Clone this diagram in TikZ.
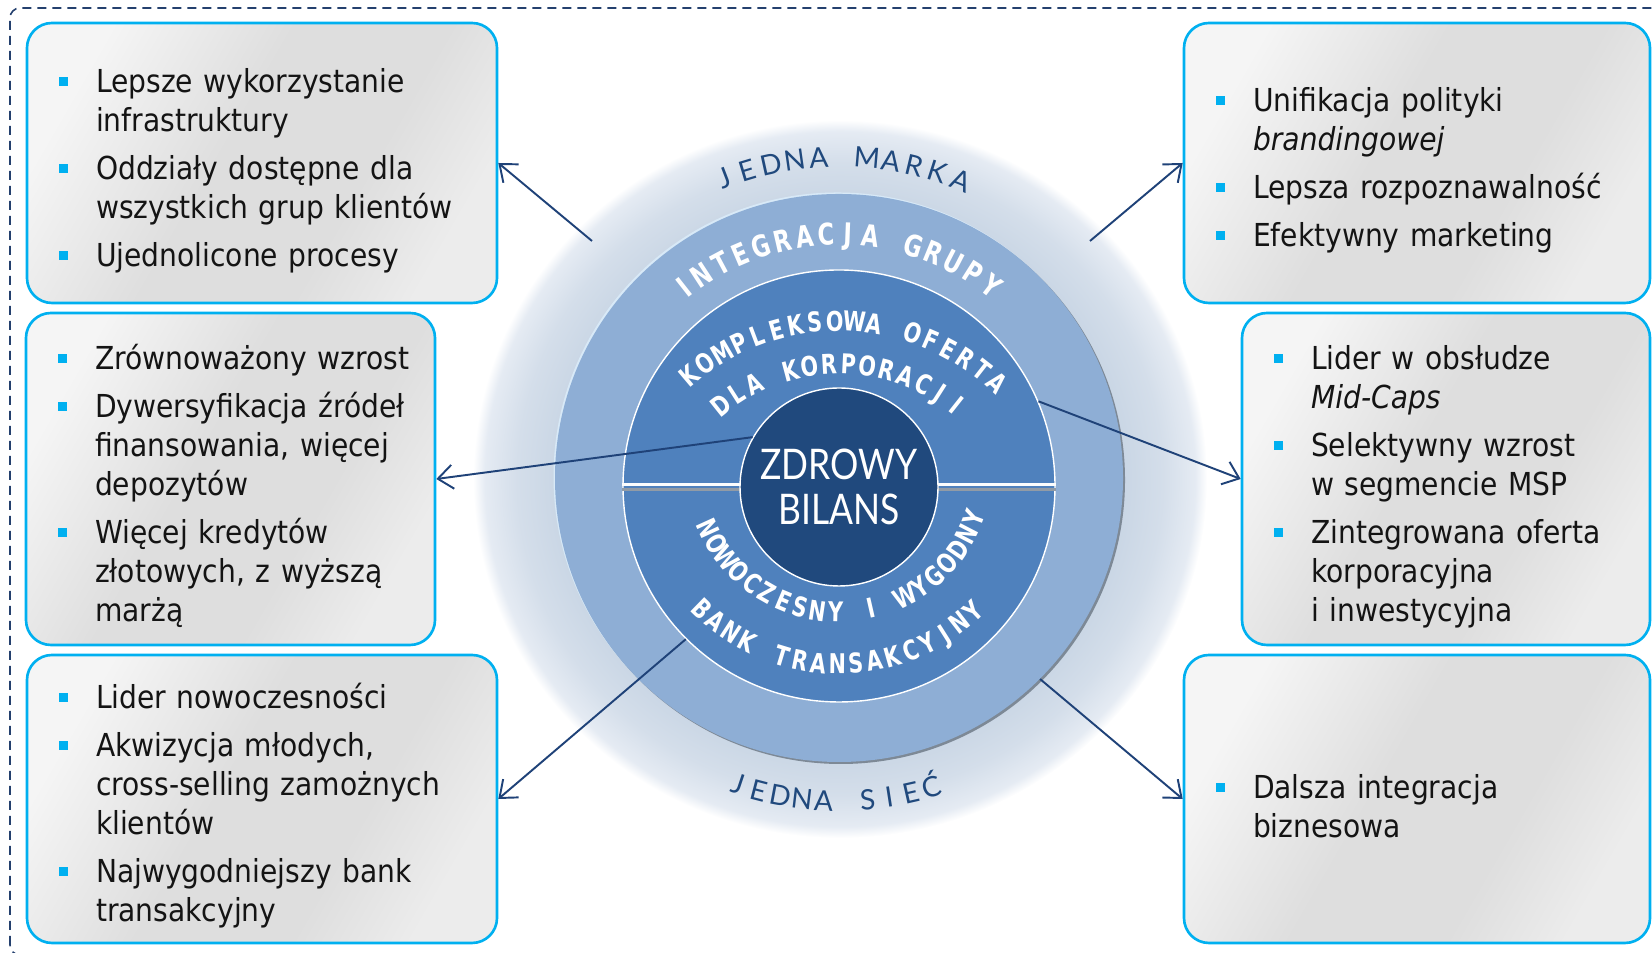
\documentclass[tikz,border=0pt]{standalone}
\usepackage{fontspec}
\setmainfont{DejaVu Sans}[FakeStretch=0.89]
\newfontfamily\circfont{Lato}
\newfontfamily\circbold{DejaVu Sans}[FakeStretch=0.76]
\newfontfamily\corefont{Lato}[FakeStretch=0.84]
\usepackage{enumitem}
\usetikzlibrary{shapes.geometric,arrows.meta}
\definecolor{ringblue}{RGB}{142,174,213}
\definecolor{discblue}{RGB}{79,129,189}
\definecolor{corenavy}{RGB}{32,73,125}
\definecolor{glowin}{RGB}{200,213,228}
\definecolor{glowmid}{RGB}{212,222,234}
\definecolor{glowedge}{RGB}{229,235,243}
\definecolor{ringlite}{RGB}{216,233,247}
\definecolor{ringdark}{RGB}{125,137,150}
\definecolor{bulletcyan}{RGB}{0,176,240}
\definecolor{boxlight}{RGB}{245,245,245}
\definecolor{boxmid}{RGB}{222,222,222}
\definecolor{boxlight2}{RGB}{236,236,236}
\definecolor{framenavy}{RGB}{36,64,110}
\definecolor{arrownavy}{RGB}{31,66,120}
\definecolor{bodytext}{RGB}{20,20,20}
\pgfdeclareradialshading{glowshade}{\pgfpointorigin}{color(0bp)=(glowin); color(19bp)=(glowin); color(22bp)=(glowmid); color(24.2bp)=(glowedge); color(25bp)=(white); color(50bp)=(white)}
\pgfdeclarehorizontalshading{boxshade}{100bp}{color(0bp)=(boxlight); color(25bp)=(boxlight); color(45bp)=(boxmid); color(62bp)=(boxmid); color(75bp)=(boxlight2); color(100bp)=(boxlight2)}
\newcommand{\ringfont}{\circbold\bfseries\fontsize{17}{17}\selectfont\color{white}}
\newcommand{\discfont}{\circbold\bfseries\fontsize{15.5}{15.5}\selectfont\color{white}}
\setlist[itemize]{label={\textcolor{bulletcyan}{\rule[1.3mm]{1.8mm}{1.8mm}}}, labelindent=0pt, labelwidth=1.8mm, labelsep=5.6mm, leftmargin=!, align=left, topsep=0pt, partopsep=0pt, parsep=0pt, itemsep=1.8mm}

% letters on an arc: centre, baseline radius, first angle, last angle, font, name, letters
\newlength{\arcchw}
\newcommand{\arcword}[7]{%
  \gdef\arcsum{0}\gdef\arcfirst{0}\gdef\arclast{0}\gdef\arcn{1}%
  \foreach \ch [count=\i] in {#7} {%
    \settowidth{\arcchw}{#5\ch}%
    \pgfmathsetmacro{\arctmp}{\arcsum+\arcchw}\xdef\arcsum{\arctmp}%
    \ifnum\i=1\relax \pgfmathsetmacro{\arctmp}{\arcchw}\xdef\arcfirst{\arctmp}\fi
    \pgfmathsetmacro{\arctmp}{\arcchw}\xdef\arclast{\arctmp}%
    \xdef\arcn{\i}%
  }%
  \pgfmathsetmacro{\arcrad}{#2*0.569055}%
  \pgfmathsetmacro{\arcgap}{(abs(#4-#3)/57.29578*\arcrad-\arcsum+0.5*\arcfirst+0.5*\arclast)/(\arcn-1)}%
  \pgfmathsetmacro{\arcdir}{(#4>#3)?1:-1}%
  \gdef\arcpos{0}%
  \foreach \ch [count=\i] in {#7} {%
    \settowidth{\arcchw}{#5\ch}%
    \pgfmathsetmacro{\arcang}{#3+\arcdir*(\arcpos+0.5*\arcchw-0.5*\arcfirst)/\arcrad*57.29578}%
    \node[anchor=base, inner sep=0pt, rotate=\arcang+\arcdir*90] (#6\i) at ([shift={(\arcang:#2)}]#1) {#5\ch};
    \pgfmathsetmacro{\arctmp}{\arcpos+\arcchw+\arcgap}\xdef\arcpos{\arctmp}%
  }%
}

\begin{document}
\begin{tikzpicture}[x=0.2mm, y=0.2mm,
    infobox/.style={draw=bulletcyan, line width=1.5pt, rounded corners=5mm, shade, shading=boxshade, shading angle=-30, inner sep=0pt},
    infotext/.style={anchor=west, inner sep=0pt, text width=86mm, align=left, text=bodytext, font=\fontsize{18}{22.2}\selectfont},
    conn/.style={draw=arrownavy, line width=1.1pt, -{Straight Barb[length=3mm,width=4.8mm]}},
    letter/.style={font=\circfont\fontsize{16}{16}\selectfont, text=corenavy, inner sep=0pt, text height=4mm, text depth=0pt}]
    \useasboundingbox (0,0) rectangle (1652,953);
    \clip (0,0) rectangle (1652,953);
    \draw[framenavy, line width=0.9pt, dash pattern=on 1.8mm off 1.2mm, rounded corners=2mm] (10,-2) rectangle (1720,945);

    \node[ellipse, minimum width=146.8mm, minimum height=143.6mm, inner sep=0pt, shade, shading=glowshade] (glow) at (840,474) {};
    \node[circle, fill=ringlite, minimum size=113.6mm, inner sep=0pt] (ringlite) at (837.5,476.5) {};
    \node[circle, fill=ringdark, minimum size=113.6mm, inner sep=0pt] (ringdark) at (841,473) {};
    \node[circle, fill=ringblue, minimum size=113.6mm, inner sep=0pt] (ring) at (839,475) {};
    \node[circle, fill=discblue, draw=white, line width=0.8pt, minimum size=86.4mm, inner sep=0pt] (disc) at (839,467) {};
    \draw[ringdark!85, line width=0.6mm] ([yshift=-0.7mm]disc.west) -- ([yshift=-0.7mm]disc.east);
    \draw[white!92!ringlite, line width=0.6mm] ([yshift=0.2mm]disc.west) -- ([yshift=0.2mm]disc.east);
    \node[circle, fill=corenavy, draw=white, line width=0.8pt, minimum size=39.6mm, inner sep=0pt, text=white, align=center, font=\corefont\fontsize{24}{26}\selectfont] (core) at (839,466) {ZDROWY\\BILANS};

    \coordinate (ringc) at ([yshift=-1.4mm]ring.center);
    \coordinate (topc) at (839,400);
    \coordinate (botc) at (839,485);
    \arcword{ringc}{240}{128.2}{52.6}{\ringfont}{grupa}{I,N,T,E,G,R,A,C,J,A,~,G,R,U,P,Y}
    \arcword{topc}{222}{130.1}{47.1}{\discfont}{oferta}{K,O,M,P,L,E,K,S,O,W,A,~,O,F,E,R,T,A}
    \arcword{topc}{179}{128.6}{51.6}{\discfont}{korp}{D,L,A,~,K,O,R,P,O,R,A,C,J,I}
    \arcword{botc}{154}{204.6}{339.8}{\discfont}{wygodny}{N,O,W,O,C,Z,E,S,N,Y,~,I,~,W,Y,G,O,D,N,Y}
    \arcword{botc}{206}{225.8}{313.3}{\discfont}{bank}{B,A,N,K,~,T,R,A,N,S,A,K,C,Y,J,N,Y}

    \foreach \ch [count=\i from 0] in {J,E,D,N,A,{},M,A,R,K,A} {
        \pgfmathsetmacro{\ang}{111-4.3*\i}
        \node[letter, rotate=\ang-90] (marka\i) at ([shift={(\ang:322)}]glow.center) {\ch};
    }
    \foreach \ch [count=\i from 0] in {J,E,D,N,A,{},S,I,E,Ć} {
        \pgfmathsetmacro{\ang}{-108.5+3.9*\i}
        \node[letter, rotate=\ang+90] (siec\i) at ([shift={(\ang:322)}]glow.center) {\ch};
    }

    \node[infobox, minimum width=94mm, minimum height=56mm] (box1) at (262,790) {};
    \node[infotext] (txt1) at ([xshift=6.6mm]box1.west) {\begin{itemize}
        \item Lepsze wykorzystanie\\infrastruktury
        \item Oddziały dostępne dla\\wszystkich grup klientów
        \item Ujednolicone procesy
    \end{itemize}};
    \node[infobox, minimum width=81.8mm, minimum height=66.4mm] (box2) at (230.5,474) {};
    \node[infotext] (txt2) at ([xshift=6.6mm]box2.west) {\begin{itemize}
        \item Zrównoważony wzrost
        \item Dywersyfikacja źródeł\\finansowania, więcej\\depozytów
        \item Więcej kredytów\\złotowych, z wyższą\\marżą
    \end{itemize}};
    \node[infobox, minimum width=94mm, minimum height=57.6mm] (box3) at (262,154) {};
    \node[infotext] (txt3) at ([xshift=6.6mm]box3.west) {\begin{itemize}
        \item Lider nowoczesności
        \item Akwizycja młodych,\\cross-selling zamożnych\\klientów
        \item Najwygodniejszy bank\\transakcyjny
    \end{itemize}};
    \node[infobox, minimum width=93.2mm, minimum height=56mm] (box4) at (1417,790) {};
    \node[infotext] (txt4) at ([xshift=6.6mm]box4.west) {\begin{itemize}
        \item Unifikacja polityki\\\textit{brandingowej}
        \item Lepsza rozpoznawalność
        \item Efektywny marketing
    \end{itemize}};
    \node[infobox, minimum width=81.6mm, minimum height=66.4mm] (box5) at (1446,474) {};
    \node[infotext] (txt5) at ([xshift=6.6mm]box5.west) {\begin{itemize}
        \item Lider w obsłudze\\\textit{Mid-Caps}
        \item Selektywny wzrost\\w segmencie MSP
        \item Zintegrowana oferta\\korporacyjna\\i inwestycyjna
    \end{itemize}};
    \node[infobox, minimum width=93.2mm, minimum height=57.6mm] (box6) at (1417,154) {};
    \node[infotext] (txt6) at ([xshift=6.6mm]box6.west) {\begin{itemize}
        \item Dalsza integracja\\biznesowa
    \end{itemize}};

    \coordinate (marka-l) at (592,712);
    \coordinate (marka-r) at (1090,712);
    \draw[conn] (marka-l) -- (box1.east);
    \draw[conn] (marka-r) -- (box4.west);
    \draw[conn] (core.150) -- (box2.east);
    \draw[conn] (disc.23) -- (box5.west);
    \draw[conn] (disc.225) -- (box3.east);
    \draw[conn] (ring.-45) -- (box6.west);
\end{tikzpicture}
\end{document}
